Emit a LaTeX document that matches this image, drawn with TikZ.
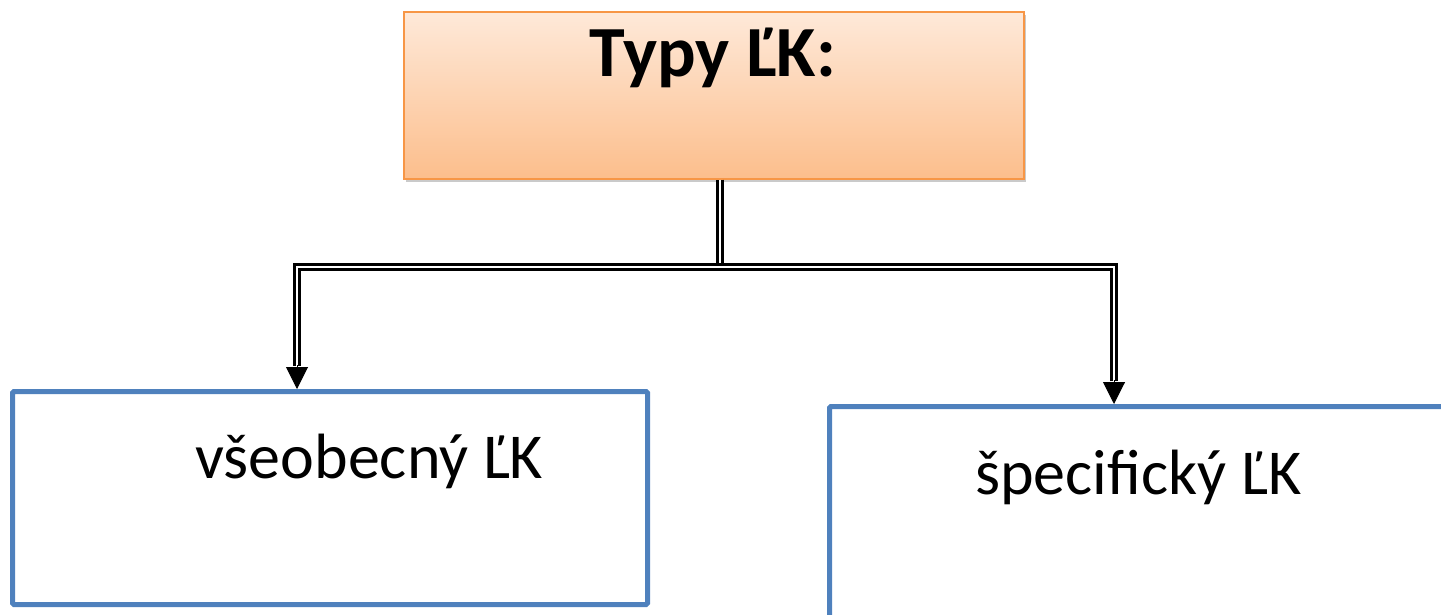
\documentclass[tikz,border=0pt]{standalone}
\usepackage{fontspec}
\setmainfont{Carlito}
\usetikzlibrary{arrows.meta,shadows,calc}
\definecolor{orgtop}{RGB}{254,233,217}
\definecolor{orgbot}{RGB}{252,190,140}
\definecolor{orgline}{RGB}{247,150,70}
\definecolor{bluebox}{RGB}{79,129,189}
\tikzset{
  x=1pt,y=1pt,
  headbox/.style={draw=orgline,line width=1.5pt,top color=orgtop,bottom color=orgbot,
    drop shadow={shadow xshift=2pt,shadow yshift=-3pt,opacity=0.35,fill=black!60},
    minimum width=620pt,minimum height=167pt,inner sep=0pt,anchor=north west},
  itembox/.style={draw=bluebox,line width=5pt,rounded corners=1.5pt,inner sep=0pt,anchor=north west},
  dbl/.style={draw=black,double=white,line width=2.6pt,double distance=2.2pt},
  arr/.style={draw=black,line width=1pt,-{Triangle[length=22pt,width=22pt]}},
  lbl/.style={inner sep=0pt,anchor=base west,font=\fontsize{64}{70}\selectfont},
}
\begin{document}
\begin{tikzpicture}
\useasboundingbox (0,0) rectangle (1441,-614);
\clip (0,0) rectangle (1441,-614);
\node[headbox] (top) at (403,-11) {};
\node[inner sep=0pt,anchor=base,font=\fontsize{72}{80}\selectfont\bfseries] (toptxt) at (713,-76) {Typy ĽK:};
\node[itembox,minimum width=635pt,minimum height=213pt] (gen) at (10,-389) {};
\node[itembox,minimum width=640pt,minimum height=230pt] (spec) at (827,-404) {};
\node[lbl] (gentxt) at (195,-478) {všeobecný ĽK};
\node[lbl] (spectxt) at (975,-494) {špecifický ĽK};
\coordinate (j) at (720,-267);
\coordinate (lb) at (297,-366);
\coordinate (rb) at (1114,-381);
\draw[dbl] (top.south -| j) -- (j);
\draw[dbl] (lb) |- (j) -| (rb);
\draw[arr] ($(lb)+(0,1)$) -- (gen.north -| lb);
\draw[arr] ($(rb)+(0,1)$) -- (spec.north -| rb);
\end{tikzpicture}
\end{document}
